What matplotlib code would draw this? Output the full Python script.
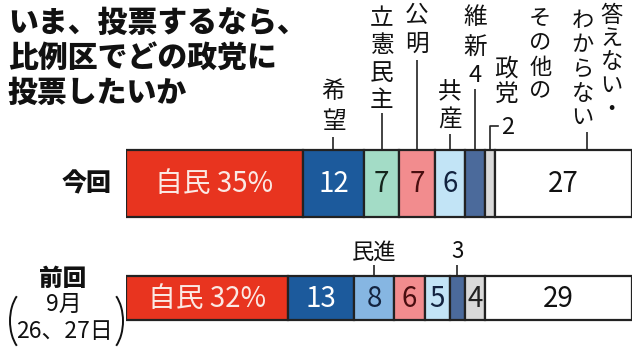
import matplotlib
matplotlib.use("Agg")
import matplotlib.pyplot as plt
import numpy as np
from matplotlib.patches import Arc

plt.rcParams["font.family"] = ["Noto Sans CJK JP", "DejaVu Sans"]

# data (percent)
parties = ["自民", "希望", "立憲民主", "公明", "共産", "維新", "その他の政党", "答えない・わからない"]
cur_values = [35, 12, 7, 7, 6, 4, 2, 27]
prev_parties = ["自民", "希望", "民進", "公明", "共産", "維新", "その他の政党", "答えない・わからない"]
prev_values = [32, 13, 8, 6, 5, 3, 4, 29]
title_lines = ["いま、投票するなら、", "比例区でどの政党に", "投票したいか"]

party_colors = {
    "自民": "#E8341F",
    "希望": "#1C5A9C",
    "立憲民主": "#A3DCC6",
    "民進": "#86B6E2",
    "公明": "#F28C8E",
    "共産": "#C2E4F6",
    "維新": "#4B6A9B",
    "その他の政党": "#D9D9D9",
    "答えない・わからない": "#FFFFFF",
}
text_colors = {
    "自民": "#FBE9E4",
    "希望": "white",
    "立憲民主": "#14261C",
    "民進": "#13233F",
    "公明": "#4A0E10",
    "共産": "#12233F",
    "維新": "white",
    "その他の政党": "#222222",
    "答えない・わからない": "#111111",
}
# which segments carry their number inside the bar
cur_inside = [True, True, True, True, True, False, False, True]
prev_inside = [True, True, True, True, True, False, True, True]

fig = plt.figure(figsize=(6.4, 3.52), dpi=100)
# overlay in pixel coordinates for free text
ov = fig.add_axes([0, 0, 1, 1])
ov.set_xlim(0, 640)
ov.set_ylim(352, 0)
ov.axis("off")
# bar axes: x in percent, y in pixels
ax = fig.add_axes([126 / 640, 0, 506 / 640, 1])
ax.set_xlim(0, 100)
ax.set_ylim(352, 0)
ax.axis("off")
px = 100 / 506  # percent per pixel

edge = "#222222"


def draw_row(names, values, inside, yc, h):
    lefts = np.cumsum([0] + values[:-1])
    ax.barh(yc, values, left=lefts, height=h,
            color=[party_colors[n] for n in names],
            edgecolor=edge, linewidth=1.6)
    for i, (n, v, l) in enumerate(zip(names, values, lefts)):
        if not inside[i]:
            continue
        lab = f"{n} {v}%" if i == 0 else str(v)
        ax.text(l + v / 2, yc + 1, lab, ha="center", va="center",
                fontsize=20, color=text_colors[n])
    return lefts + np.array(values) / 2


cur_c = draw_row(parties, cur_values, cur_inside, 183.5, 67)
prev_c = draw_row(prev_parties, prev_values, prev_inside, 298, 44)


def vtext(x, ys, chars, size=17):
    for y, ch in zip(ys, chars):
        ax.text(x, y, ch, ha="center", va="center", fontsize=size, color="#111111")


def leader(x, y0, y1):
    ax.plot([x, x], [y0, y1], color=edge, lw=1.2, solid_capstyle="butt")


top = 150
# labels above the current bar
vtext(cur_c[1], [92, 122], "希望")
leader(cur_c[1], 137, top)
vtext(cur_c[2], [19, 46, 73, 100], "立憲民主")
leader(cur_c[2], 113, top)
vtext(cur_c[3], [15, 44], "公明")
leader(cur_c[3], 60, top)
vtext(cur_c[4], [93, 120], "共産")
leader(cur_c[4], 134, top)
vtext(cur_c[5], [18, 48, 76], ["維", "新", str(cur_values[5])])
leader(cur_c[5], 89, top)
vtext(cur_c[6] + 50 * px, [19, 43, 67, 91], "その他の", size=16)
vtext(cur_c[6] + 16 * px, [69, 95], "政党")
ax.plot([cur_c[6] + 8 * px, cur_c[6], cur_c[6]], [126, 126, top],
        color=edge, lw=1.2)
ax.text(cur_c[6] + 17 * px, 128, str(cur_values[6]), ha="center",
        va="center", fontsize=17, color="#111111")
vtext(cur_c[7] + 48 * px, [16, 39, 62, 85, 110], "答えない・", size=16)
vtext(cur_c[7] + 19 * px, [21, 45, 69, 93, 117], "わからない", size=16)
leader(cur_c[7] + 23 * px, 132, top)

# labels above the previous bar
ax.text(prev_c[2], 252, "民進", ha="center", va="center", fontsize=16, color="#111111")
leader(prev_c[2], 265, 276)
ax.text(prev_c[5], 252, str(prev_values[5]), ha="center", va="center",
        fontsize=16, color="#111111")
leader(prev_c[5], 265, 276)

# title
for i, line in enumerate(title_lines):
    ov.text(8, 22 + 35 * i, line, ha="left", va="center", fontsize=21.5,
            fontweight="black", color="#111111")

# row labels
ov.text(87, 183, "今回", ha="center", va="center", fontsize=18, fontweight="black", color="#111111")
ov.text(63, 279, "前回", ha="center", va="center", fontsize=17, fontweight="black", color="#111111")
ov.text(64, 304, "9月", ha="center", va="center", fontsize=16.5, color="#111111")
ov.text(64, 332, "26、27日", ha="center", va="center", fontsize=16.5, color="#111111")
ov.add_patch(Arc((30, 321), 40, 66, theta1=118, theta2=242, color="#111111", lw=1.4))
ov.add_patch(Arc((103, 321), 40, 66, theta1=-62, theta2=62, color="#111111", lw=1.4))

fig.savefig("out.png", dpi=100, facecolor="white")
